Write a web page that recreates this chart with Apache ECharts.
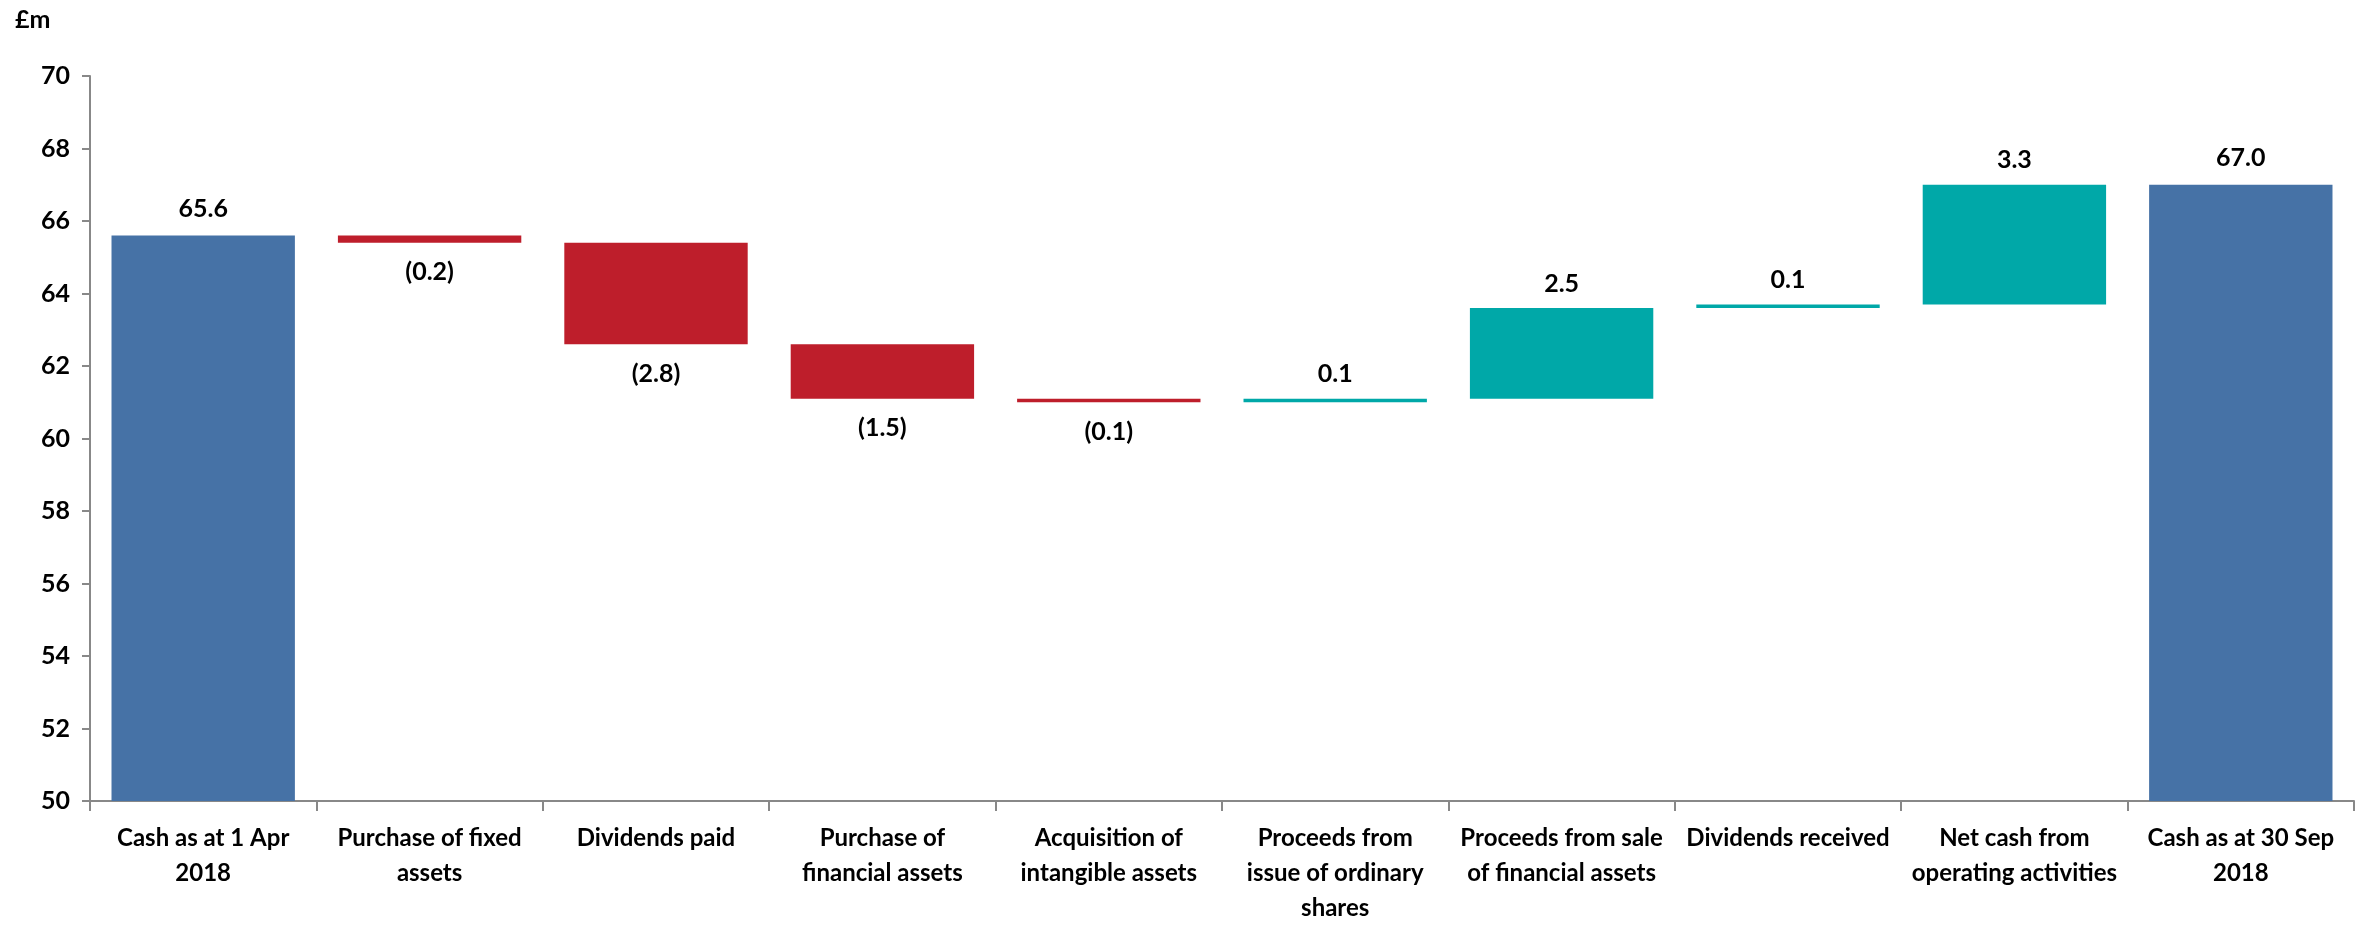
<!DOCTYPE html>
<html>
<head>
<meta charset="utf-8">
<title>Cash flow waterfall</title>
<script src="https://cdn.jsdelivr.net/npm/echarts@6/dist/echarts.min.js"></script>
<style>
  html, body { margin: 0; padding: 0; background: #fff; }
  #chart { width: 2376px; height: 926px; }
</style>
</head>
<body>
<div id="chart"></div>
<script>
// categories along the x axis
const categories = [
  'Cash as at 1 Apr\n2018',
  'Purchase of fixed\nassets',
  'Dividends paid',
  'Purchase of\nfinancial assets',
  'Acquisition of\nintangible assets',
  'Proceeds from\nissue of ordinary\nshares',
  'Proceeds from sale\nof financial assets',
  'Dividends received',
  'Net cash from\noperating activities',
  'Cash as at 30 Sep\n2018'
]
// amounts in £m, totals are balances and the rest are movements
const amounts = [65.6, -0.2, -2.8, -1.5, -0.1, 0.1, 2.5, 0.1, 3.3, 67.0]
const kinds = ['total', 'move', 'move', 'move', 'move', 'move', 'move', 'move', 'move', 'total']
const yTicks = { min: 50, max: 70, interval: 2 }

const FONT = 'Lato'
const BLUE = '#4672A6'
const RED = '#BE1E2B'
const TEAL = '#00A8A8'

// build stacked waterfall series
let baseData = [], totalData = [], downData = [], upData = []
let running = 0
for (let i = 0; i < amounts.length; i++) {
  const v = amounts[i]
  if (kinds[i] === 'total') {
    running = v
    baseData.push(0)
    totalData.push(v)
    downData.push('-')
    upData.push('-')
  } else {
    const start = running
    const end = +(running + v).toFixed(2)
    running = end
    baseData.push(Math.min(start, end))
    totalData.push('-')
    if (v < 0) {
      downData.push(Math.abs(v))
      upData.push('-')
    } else {
      downData.push('-')
      upData.push(v)
    }
  }
}

const labelStyle = {
  show: true,
  color: '#000',
  fontFamily: FONT,
  fontWeight: 'bold',
  fontSize: 25
}

const chart = echarts.init(document.getElementById('chart'))
chart.setOption({
  backgroundColor: '#fff',
  animation: false,
  title: {
    text: '£m',
    left: 10,
    top: 2,
    textStyle: { color: '#000', fontFamily: FONT, fontWeight: 'bold', fontSize: 25 }
  },
  grid: { left: 90, right: 22, top: 76, bottom: 120, containLabel: false },
  xAxis: {
    type: 'category',
    data: categories,
    axisLine: { show: true, lineStyle: { color: '#888', width: 2 } },
    axisTick: { show: true, length: 10, lineStyle: { color: '#888', width: 2 } },
    axisLabel: {
      interval: 0,
      color: '#000',
      fontFamily: FONT,
      fontWeight: 'bold',
      fontSize: 24,
      lineHeight: 35,
      margin: 20
    }
  },
  yAxis: {
    type: 'value',
    min: yTicks.min,
    max: yTicks.max,
    interval: yTicks.interval,
    splitLine: { show: false },
    axisLine: { show: true, lineStyle: { color: '#888', width: 2 } },
    axisTick: { show: true, length: 8, lineStyle: { color: '#888', width: 2 } },
    axisLabel: {
      color: '#000',
      fontFamily: FONT,
      fontWeight: 'bold',
      fontSize: 25,
      margin: 20
    }
  },
  series: [
    {
      name: 'base',
      type: 'bar',
      stack: 'w',
      barCategoryGap: '19%',
      itemStyle: { color: 'transparent' },
      emphasis: { disabled: true },
      data: baseData
    },
    {
      name: 'total',
      type: 'bar',
      stack: 'w',
      itemStyle: { color: BLUE },
      label: Object.assign({}, labelStyle, {
        position: 'top',
        distance: 14,
        formatter: p => p.value.toFixed(1)
      }),
      data: totalData
    },
    {
      name: 'decrease',
      type: 'bar',
      stack: 'w',
      itemStyle: { color: RED },
      label: Object.assign({}, labelStyle, {
        position: 'bottom',
        distance: 17,
        formatter: p => '(' + p.value.toFixed(1) + ')'
      }),
      data: downData
    },
    {
      name: 'increase',
      type: 'bar',
      stack: 'w',
      itemStyle: { color: TEAL },
      label: Object.assign({}, labelStyle, {
        position: 'top',
        distance: 12,
        formatter: p => p.value.toFixed(1)
      }),
      data: upData
    }
  ]
})

window.addEventListener('resize', () => {
  chart.resize()
})
</script>
</body>
</html>
